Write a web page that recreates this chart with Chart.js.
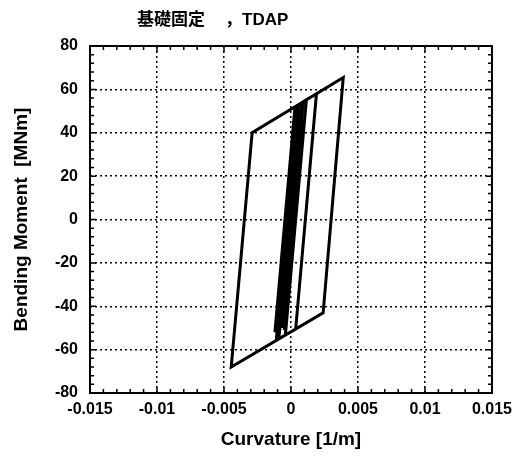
<!DOCTYPE html>
<html>
<head>
<meta charset="utf-8">
<script src="https://cdn.jsdelivr.net/npm/chart.js@4.4.1/dist/chart.umd.min.js"></script>
<style>
  body { margin: 0; background: #fff; }
  #wrap { width: 519px; height: 460px; position: relative; }
</style>
</head>
<body>
<div id="wrap"><canvas id="mkChart"></canvas></div>
<script>
// M-phi hysteresis, turning points of the response
const curvature = [0, 0.00035, -0.0003, 0.0007, -0.0008, 0.0008, 0.0039, 0.0024, -0.00446, -0.0029,
    0.0019, 0.00035, -0.0011, 0.00047, 0.00115, -0.00042, 0.00096, -0.0006, 0.0009, -0.0009,
    0.00055, -0.0012, 0.0003, -0.00105, 0.0004, -0.00095, 0.0006, -0.0008, 0.00065, -0.0006,
    0.0008, -0.0005, 0.00085, -0.0004, 0.00075, -0.0003, 0.0006, -0.0002, 0.0005, 0, 0.0003];
const moment = [0, 25, -21, 50, -48, 53.9, 65.5, -43, -68, 40,
    58, -50.5, -55.7, 52.5, 55.2, -53.3, 46, -50, 53.8, -54.3,
    52.8, -52, 52, -48, 50, -52, 51, -50, 48, -47,
    49, -51, 45, -44, 40, -38, 32, -26, 22, -12, 8];

const xTicks = [-0.015, -0.01, -0.005, 0, 0.005, 0.01, 0.015];
const yTicks = [-80, -60, -40, -20, 0, 20, 40, 60, 80];
const xMinorStep = 0.001;
const yMinorStep = 4;

const titleMain = '基礎固定';
const titleCode = '，TDAP';
const xTitle = 'Curvature [1/m]';
const yTitle = 'Bending Moment  [MNm]';

const FONT = "'Liberation Sans', Arial, sans-serif";

let points = curvature.map((c, i) => ({ x: c, y: moment[i] }));

// frame, inward ticks on all four sides, and the title
const framePlugin = {
    id: 'frame',
    afterDraw(chart) {
        const ctx = chart.ctx;
        const a = chart.chartArea;
        const xs = chart.scales.x, ys = chart.scales.y;
        ctx.save();
        ctx.strokeStyle = '#000';
        ctx.lineWidth = 1.5;
        ctx.beginPath();
        for (let v = -15; v <= 15; v++) {
            const px = xs.getPixelForValue(v * xMinorStep);
            const len = (v % 5 === 0) ? 6 : 4;
            ctx.moveTo(px, a.bottom); ctx.lineTo(px, a.bottom - len);
            ctx.moveTo(px, a.top); ctx.lineTo(px, a.top + len);
        }
        for (let v = -20; v <= 20; v++) {
            const py = ys.getPixelForValue(v * yMinorStep);
            const len = (v % 5 === 0) ? 6 : 4;
            ctx.moveTo(a.left, py); ctx.lineTo(a.left + len, py);
            ctx.moveTo(a.right, py); ctx.lineTo(a.right - len, py);
        }
        ctx.stroke();
        ctx.lineWidth = 2;
        ctx.strokeRect(a.left, a.top, a.right - a.left, a.bottom - a.top);

        ctx.fillStyle = '#000';
        ctx.font = "bold 17px 'Liberation Sans', 'Noto Sans CJK JP', sans-serif";
        ctx.textAlign = 'left';
        ctx.textBaseline = 'middle';
        ctx.fillText(titleMain, 137, 20);
        ctx.fillText(titleCode, 225, 20);
        ctx.restore();
    }
};

const ctxMk = document.getElementById('mkChart').getContext('2d');
const mkChart = new Chart(ctxMk, {
    type: 'scatter',
    data: {
        datasets: [{
            data: points,
            showLine: true,
            borderColor: '#000',
            borderWidth: 3,
            pointRadius: 0,
            tension: 0,
            borderJoinStyle: 'miter'
        }]
    },
    options: {
        responsive: true,
        maintainAspectRatio: false,
        animation: false,
        layout: { padding: { top: 46, right: 21, left: 0, bottom: 0 } },
        plugins: {
            legend: { display: false },
            tooltip: { enabled: false }
        },
        scales: {
            x: {
                type: 'linear',
                min: -0.015,
                max: 0.015,
                afterBuildTicks: scale => { scale.ticks = xTicks.map(v => ({ value: v })); },
                afterFit: scale => { scale.height = 67; },
                grid: { color: '#000', lineWidth: 1.5, drawTicks: false },
                border: { display: false, dash: [2, 3] },
                ticks: {
                    color: '#000',
                    padding: 7,
                    maxRotation: 0,
                    autoSkip: false,
                    font: { family: FONT, size: 16, weight: 'bold' },
                    callback: v => String(v)
                },
                title: {
                    display: true,
                    text: xTitle,
                    color: '#000',
                    font: { family: FONT, size: 19, weight: 'bold' },
                    padding: { top: 0, bottom: 9 }
                }
            },
            y: {
                type: 'linear',
                min: -80,
                max: 80,
                afterBuildTicks: scale => { scale.ticks = yTicks.map(v => ({ value: v })); },
                afterFit: scale => { scale.width = 90; },
                grid: { color: '#000', lineWidth: 1.5, drawTicks: false },
                border: { display: false, dash: [2, 3] },
                ticks: {
                    color: '#000',
                    padding: 12,
                    autoSkip: false,
                    font: { family: FONT, size: 16, weight: 'bold' },
                    callback: v => String(v)
                },
                title: {
                    display: true,
                    text: yTitle,
                    color: '#000',
                    font: { family: FONT, size: 19, weight: 'bold' },
                    padding: { top: 10, bottom: 0 }
                }
            }
        }
    },
    plugins: [framePlugin]
});
</script>
</body>
</html>
